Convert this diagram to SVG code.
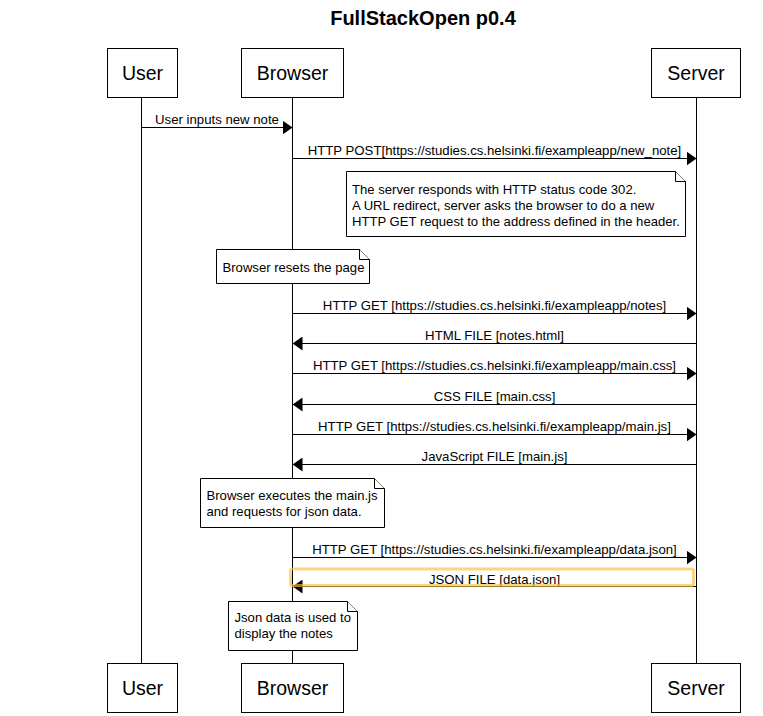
<svg xmlns="http://www.w3.org/2000/svg" width="763" height="716" viewBox="0 0 763 716">
<style>
text{font-family:"Liberation Sans",Arial,Helvetica,sans-serif;fill:#000}
.actor rect{fill:#fff;stroke:#000;stroke-width:1}
.actor text{font-size:19.5px;text-anchor:middle}
.life{stroke:#000;stroke-width:1}
.msg line{stroke:#000;stroke-width:1;marker-end:url(#ah)}
.msg text{font-size:13.2px;text-anchor:middle}
.note path{fill:#fff;stroke:#000;stroke-width:1}
.note text{font-size:13.1px}
.title{font-size:20px;font-weight:bold;text-anchor:middle}
</style>
<defs>
<marker id="ah" markerUnits="userSpaceOnUse" viewBox="0 0 10 14" refX="10" refY="7" markerWidth="10" markerHeight="14" orient="auto">
<path d="M0,0 L10,7 L0,14 z" fill="#000"/>
</marker>
</defs>
<rect width="763" height="716" fill="#fff"/>
<text class="title" x="423" y="24.5">FullStackOpen p0.4</text>
<g id="lifelines">
<line class="life" x1="141.5" y1="97.5" x2="141.5" y2="663.5"/>
<line class="life" x1="292.5" y1="97.5" x2="292.5" y2="663.5"/>
<line class="life" x1="696.5" y1="97.5" x2="696.5" y2="663.5"/>
</g>
<g id="actor-user-top" class="actor"><rect x="107.5" y="48.5" width="70" height="49"/><text x="142.5" y="79.5">User</text></g>
<g id="actor-browser-top" class="actor"><rect x="241.5" y="48.5" width="102" height="49"/><text x="292.5" y="79.5">Browser</text></g>
<g id="actor-server-top" class="actor"><rect x="651.5" y="48.5" width="89" height="49"/><text x="696" y="79.5">Server</text></g>
<g id="actor-user-bottom" class="actor"><rect x="107.5" y="663.5" width="70" height="49"/><text x="142.5" y="695">User</text></g>
<g id="actor-browser-bottom" class="actor"><rect x="241.5" y="663.5" width="102" height="49"/><text x="292.5" y="695">Browser</text></g>
<g id="actor-server-bottom" class="actor"><rect x="651.5" y="663.5" width="89" height="49"/><text x="696" y="695">Server</text></g>
<g id="connectors" class="msg">
<line x1="141.5" y1="127.5" x2="292.5" y2="127.5"/><text x="217" y="124">User inputs new note</text>
<line x1="292.5" y1="158.5" x2="696.5" y2="158.5"/><text x="494.5" y="155">HTTP POST[https://studies.cs.helsinki.fi/exampleapp/new_note]</text>
<line x1="292.5" y1="313.5" x2="696.5" y2="313.5"/><text x="494.5" y="309.5">HTTP GET [https://studies.cs.helsinki.fi/exampleapp/notes]</text>
<line x1="696.5" y1="343.5" x2="292.5" y2="343.5"/><text x="494.5" y="339.5">HTML FILE [notes.html]</text>
<line x1="292.5" y1="373.5" x2="696.5" y2="373.5"/><text x="494.5" y="369.5">HTTP GET [https://studies.cs.helsinki.fi/exampleapp/main.css]</text>
<line x1="696.5" y1="404.5" x2="292.5" y2="404.5"/><text x="494.5" y="400.5">CSS FILE [main.css]</text>
<line x1="292.5" y1="434.5" x2="696.5" y2="434.5"/><text x="494.5" y="430.5">HTTP GET [https://studies.cs.helsinki.fi/exampleapp/main.js]</text>
<line x1="696.5" y1="464.5" x2="292.5" y2="464.5"/><text x="494.5" y="460.5">JavaScript FILE [main.js]</text>
<line x1="292.5" y1="557.5" x2="696.5" y2="557.5"/><text x="494.5" y="554">HTTP GET [https://studies.cs.helsinki.fi/exampleapp/data.json]</text>
<line x1="696.5" y1="586.5" x2="292.5" y2="586.5"/><text x="494.5" y="583.5">JSON FILE [data.json]</text>
</g>
<g id="highlight"><rect x="290.5" y="569" width="403" height="16.5" rx="2" fill="none" stroke="#fbbf3f" stroke-opacity="0.65" stroke-width="3"/></g>
<g id="note-302" class="note">
<path d="M346.5,171.5 H675.5 L685.5,181.5 V236.5 H346.5 Z"/><path d="M675.5,171.5 V181.5 H685.5" fill="none"/>
<text x="352" y="193.5">The server responds with HTTP status code 302.</text>
<text x="352" y="209.5">A URL redirect, server asks the browser to do a new</text>
<text x="352" y="225.5">HTTP GET request to the address defined in the header.</text>
</g>
<g id="note-reset" class="note">
<path d="M216.5,249.5 H359.5 L369.5,259.5 V283.5 H216.5 Z"/><path d="M359.5,249.5 V259.5 H369.5" fill="none"/>
<text x="222.5" y="271.5">Browser resets the page</text>
</g>
<g id="note-exec" class="note">
<path d="M200.5,478.5 H374.5 L384.5,488.5 V527.5 H200.5 Z"/><path d="M374.5,478.5 V488.5 H384.5" fill="none"/>
<text x="206.5" y="500">Browser executes the main.js</text>
<text x="206.5" y="515.5">and requests for json data.</text>
</g>
<g id="note-json" class="note">
<path d="M228.5,601.5 H347.5 L357.5,611.5 V650.5 H228.5 Z"/><path d="M347.5,601.5 V611.5 H357.5" fill="none"/>
<text x="234.5" y="622">Json data is used to</text>
<text x="234.5" y="637.5">display the notes</text>
</g>
</svg>
